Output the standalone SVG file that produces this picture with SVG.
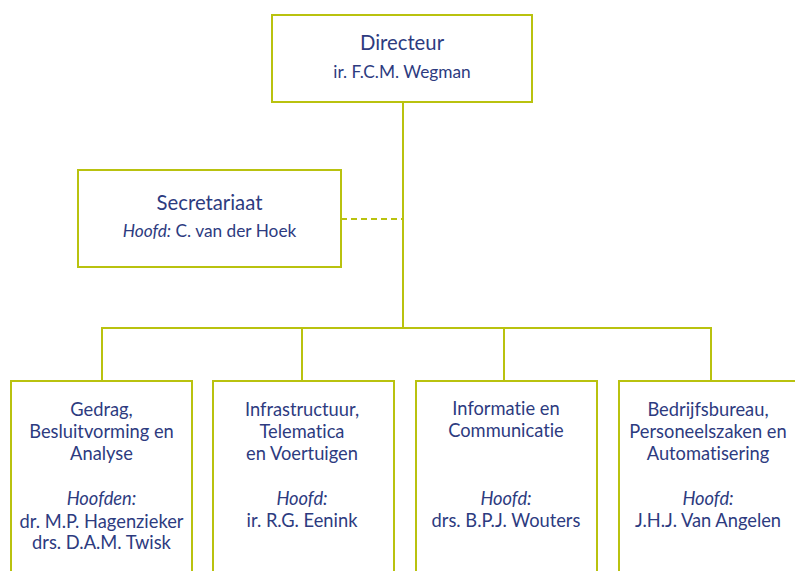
<svg xmlns="http://www.w3.org/2000/svg" width="795" height="571" viewBox="0 0 795 571">
<style>
.box{fill:#fff;stroke:#b9c20f;stroke-width:2}
.ln{fill:none;stroke:#b9c20f;stroke-width:2}
.dash{fill:none;stroke:#b9c20f;stroke-width:2;stroke-dasharray:6,4}
text{font-family:Lato,"Open Sans",sans-serif;fill:#2d3b7f;text-anchor:middle;font-variant-ligatures:none}
.t1{font-size:20.3px}
.t2{font-size:17.3px}
.t3{font-size:18.3px}
.i{font-style:italic}
</style>
<rect width="795" height="571" fill="#fff"/>
<g id="connectors">
<line class="ln" x1="403" y1="102" x2="403" y2="328"/>
<line class="dash" x1="341" y1="219" x2="403" y2="219"/>
<polyline class="ln" points="102,381 102,328 711,328 711,381"/>
<line class="ln" x1="302" y1="328" x2="302" y2="381"/>
<line class="ln" x1="504" y1="328" x2="504" y2="381"/>
</g>
<g id="directeur">
<rect class="box" x="272" y="15" width="260" height="87"/>
<text class="t1" x="402" y="50">Directeur</text>
<text class="t2" x="402" y="78">ir. F.C.M. Wegman</text>
</g>
<g id="secretariaat">
<rect class="box" x="78" y="170" width="263" height="97"/>
<text class="t1" x="209.5" y="210">Secretariaat</text>
<text class="t2" x="209.5" y="237"><tspan class="i">Hoofd:</tspan> C. van der Hoek</text>
</g>
<g id="gedrag">
<rect class="box" x="11" y="381" width="181" height="200"/>
<text class="t3" x="101.5" y="416">Gedrag,</text>
<text class="t3" x="101.5" y="438">Besluitvorming en</text>
<text class="t3" x="101.5" y="460">Analyse</text>
<text class="t3 i" x="101.5" y="505">Hoofden:</text>
<text class="t3" x="101.5" y="528">dr. M.P. Hagenzieker</text>
<text class="t3" x="101.5" y="549">drs. D.A.M. Twisk</text>
</g>
<g id="infrastructuur">
<rect class="box" x="213" y="381" width="181" height="200"/>
<text class="t3" x="302" y="416">Infrastructuur,</text>
<text class="t3" x="302" y="438">Telematica</text>
<text class="t3" x="302" y="460">en Voertuigen</text>
<text class="t3 i" x="302" y="505">Hoofd:</text>
<text class="t3" x="302" y="527">ir. R.G. Eenink</text>
</g>
<g id="informatie">
<rect class="box" x="416" y="381" width="181" height="200"/>
<text class="t3" x="506" y="415">Informatie en</text>
<text class="t3" x="506" y="437">Communicatie</text>
<text class="t3 i" x="506" y="505">Hoofd:</text>
<text class="t3" x="506" y="527">drs. B.P.J. Wouters</text>
</g>
<g id="bedrijfsbureau">
<rect class="box" x="619" y="381" width="190" height="200"/>
<text class="t3" x="708" y="416">Bedrijfsbureau,</text>
<text class="t3" x="708" y="438">Personeelszaken en</text>
<text class="t3" x="708" y="460">Automatisering</text>
<text class="t3 i" x="708" y="505">Hoofd:</text>
<text class="t3" x="708" y="527">J.H.J. Van Angelen</text>
</g>
</svg>
